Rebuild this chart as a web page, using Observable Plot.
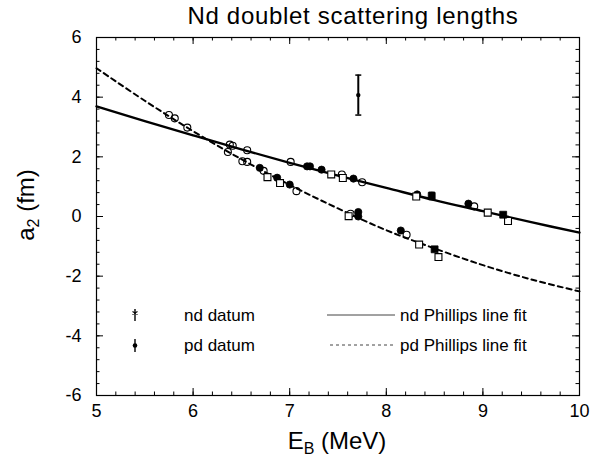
<!DOCTYPE html>
<html><head><meta charset="utf-8">
<script src="https://cdn.jsdelivr.net/npm/d3@7"></script>
<script src="https://cdn.jsdelivr.net/npm/@observablehq/plot@0.6"></script>
<style>
body{margin:0;background:#fff;}
#chart{position:relative;width:603px;height:458px;font-family:"Liberation Sans",Arial,sans-serif;}
</style>
</head><body><div id="chart"></div>
<script>
// nd data (solid-line branch)
const ndE = [6.38,6.41,6.56,7.01,7.18,7.21,7.33,7.43,7.54,7.55,7.66,7.75,8.31,8.32,8.47,8.85,8.91,9.05,9.21,9.26];
const ndA = [2.41,2.37,2.22,1.83,1.68,1.68,1.57,1.41,1.41,1.29,1.27,1.15,0.67,0.74,0.69,0.43,0.34,0.13,0.06,-0.15];
const ndM = ["oc","oc","oc","oc","fc","fc","fc","os","oc","os","fc","oc","os","fc","fs","fc","oc","os","fs","os"];
// pd data (dashed-line branch)
const pdE = [5.75,5.81,5.94,6.36,6.51,6.56,6.69,6.73,6.77,6.87,6.90,7.00,7.07,7.61,7.63,7.71,7.71,8.15,8.21,8.34,8.50,8.54];
const pdA = [3.40,3.29,2.98,2.16,1.85,1.83,1.63,1.53,1.32,1.30,1.12,1.07,0.85,0.01,0.09,0.15,0.00,-0.47,-0.61,-0.94,-1.10,-1.36];
const pdM = ["oc","oc","oc","oc","oc","oc","fc","oc","os","fc","os","fc","oc","os","oc","fc","fc","fc","oc","os","fs","os"];
// error-bar data
const errE = [7.71, 8.47];
const errA = [4.07, 0.69];
const errLo = [3.40, 0.57];
const errHi = [4.74, 0.81];
// Phillips line fits
const fitE = [5,5.5,6,6.5,7,7.5,8,8.5,9,9.5,10];
const ndFit = [3.69,3.20,2.72,2.25,1.80,1.37,0.96,0.55,0.18,-0.19,-0.54];
const pdFit = [4.97,3.88,2.86,1.92,1.06,0.27,-0.46,-1.07,-1.63,-2.11,-2.51];
// ticks
const xMajor = [5,6,7,8,9,10];
const xTickLabels = ["5","6","7","8","9","10"];
const yMajor = [-6,-4,-2,0,2,4,6];
const yTickLabels = ["-6","-4","-2","0","2","4","6"];
const xMinor = d3.range(5,10.001,0.2);
const yMinor = d3.range(-6,6.001,0.4);
const legendLabels = ["nd datum","pd datum","nd Phillips line fit","pd Phillips line fit"];

const pts = [
  ...ndE.map((e,i)=>({E:e,A:ndA[i],m:ndM[i]})),
  ...pdE.map((e,i)=>({E:e,A:pdA[i],m:pdM[i]}))
];
const fits = fitE.map((e,i)=>({E:e,nd:ndFit[i],pd:pdFit[i]}));
const errs = errE.map((e,i)=>({E:e,A:errA[i],lo:errLo[i],hi:errHi[i]}));

const W=603,H=458,mL=96,mR=24,mT=37,mB=63;
const pw=W-mL-mR, ph=H-mT-mB;
const cap = {draw(ctx,size){const w=Math.sqrt(size/Math.PI);ctx.moveTo(-w,0);ctx.lineTo(w,0);}};

const plot = Plot.plot({
  width:W,height:H,marginLeft:mL,marginRight:mR,marginTop:mT,marginBottom:mB,
  style:{fontFamily:"Liberation Sans, Arial, sans-serif",fontSize:"18px",color:"#000",background:"#fff"},
  x:{domain:[5,10]},
  y:{domain:[-6,6]},
  marks:[
    Plot.ruleX(xMinor,{insetTop:ph-3.5,stroke:"#000"}),
    Plot.ruleX(xMinor,{insetBottom:ph-3.5,stroke:"#000"}),
    Plot.ruleX(xMajor,{insetTop:ph-7,stroke:"#000"}),
    Plot.ruleX(xMajor,{insetBottom:ph-7,stroke:"#000"}),
    Plot.ruleY(yMinor,{insetRight:pw-3.5,stroke:"#000"}),
    Plot.ruleY(yMinor,{insetLeft:pw-3.5,stroke:"#000"}),
    Plot.ruleY(yMajor,{insetRight:pw-7,stroke:"#000"}),
    Plot.ruleY(yMajor,{insetLeft:pw-7,stroke:"#000"}),
    Plot.frame({stroke:"#000",strokeWidth:1.2}),
    Plot.axisX({ticks:xMajor,tickSize:0,tickPadding:9,label:null,fontSize:18,
      tickFormat:d=>xTickLabels[xMajor.indexOf(d)]}),
    Plot.axisY({ticks:yMajor,tickSize:0,tickPadding:15,label:null,fontSize:18,
      tickFormat:d=>yTickLabels[yMajor.indexOf(d)]}),
    Plot.line(fits,{x:"E",y:"nd",stroke:"#000",strokeWidth:2.4,curve:"catmull-rom"}),
    Plot.line(fits,{x:"E",y:"pd",stroke:"#000",strokeWidth:2,strokeDasharray:"5,4",curve:"catmull-rom"}),
    Plot.ruleX(errs,{x:"E",y1:"lo",y2:"hi",stroke:"#000",strokeWidth:2}),
    Plot.dot(errs,{x:"E",y:"lo",symbol:cap,r:3,stroke:"#000",strokeWidth:1.5}),
    Plot.dot(errs,{x:"E",y:"hi",symbol:cap,r:3,stroke:"#000",strokeWidth:1.5}),
    Plot.dot(errs.slice(0,1),{x:"E",y:"A",r:2.2,fill:"#000",stroke:"none"}),
    Plot.dot(pts.filter(d=>d.m==="oc"),{x:"E",y:"A",r:3.5,fill:"none",stroke:"#000",strokeWidth:1.1}),
    Plot.dot(pts.filter(d=>d.m==="fc"),{x:"E",y:"A",r:3.6,fill:"#000",stroke:"#000",strokeWidth:0.8}),
    Plot.dot(pts.filter(d=>d.m==="os"),{x:"E",y:"A",r:3.9,symbol:"square",fill:"#fff",stroke:"#000",strokeWidth:1.1}),
    Plot.dot(pts.filter(d=>d.m==="fs"),{x:"E",y:"A",r:3.9,symbol:"square",fill:"#000",stroke:"#000",strokeWidth:0.8})
  ]
});
document.getElementById("chart").appendChild(plot);

const svg = d3.select(plot);
// title
svg.append("text").attr("x",353).attr("y",24).attr("text-anchor","middle")
  .attr("font-size",24).attr("letter-spacing","0.7px").attr("fill","#000").text("Nd doublet scattering lengths");
// x label
const xl = svg.append("text").attr("x",337).attr("y",449).attr("text-anchor","middle").attr("font-size",24).attr("fill","#000");
xl.append("tspan").text("E");
xl.append("tspan").attr("dy",5).attr("font-size",16).text("B");
xl.append("tspan").attr("dy",-5).text(" (MeV)");
// y label
const yl = svg.append("text").attr("transform","translate(34,205) rotate(-90)").attr("text-anchor","middle").attr("font-size",24).attr("fill","#000");
yl.append("tspan").text("a");
yl.append("tspan").attr("dy",5).attr("font-size",16).text("2");
yl.append("tspan").attr("dy",-5).text(" (fm)");

// legend
const lg = svg.append("g").attr("font-size",17).attr("fill","#000").attr("text-anchor","start");
lg.append("line").attr("x1",135).attr("x2",135).attr("y1",309).attr("y2",321).attr("stroke","#000").attr("stroke-width",1.4);
lg.append("path").attr("d","M132.5,311.5L137.5,314.5M132.5,314.5L137.5,311.5").attr("stroke","#000").attr("stroke-width",1.1);
lg.append("text").attr("x",184).attr("y",321).text(legendLabels[0]);
lg.append("line").attr("x1",135).attr("x2",135).attr("y1",339).attr("y2",352).attr("stroke","#000").attr("stroke-width",1.4);
lg.append("circle").attr("cx",135).attr("cy",345.5).attr("r",2.3).attr("fill","#000");
lg.append("text").attr("x",184).attr("y",351).text(legendLabels[1]);
lg.append("line").attr("x1",327).attr("x2",395).attr("y1",315).attr("y2",315).attr("stroke","#444").attr("stroke-width",1);
lg.append("text").attr("x",400).attr("y",321).text(legendLabels[2]);
lg.append("line").attr("x1",330).attr("x2",395).attr("y1",345).attr("y2",345).attr("stroke","#444").attr("stroke-width",1).attr("stroke-dasharray","3,3");
lg.append("text").attr("x",400).attr("y",351).text(legendLabels[3]);
</script>
</body></html>
